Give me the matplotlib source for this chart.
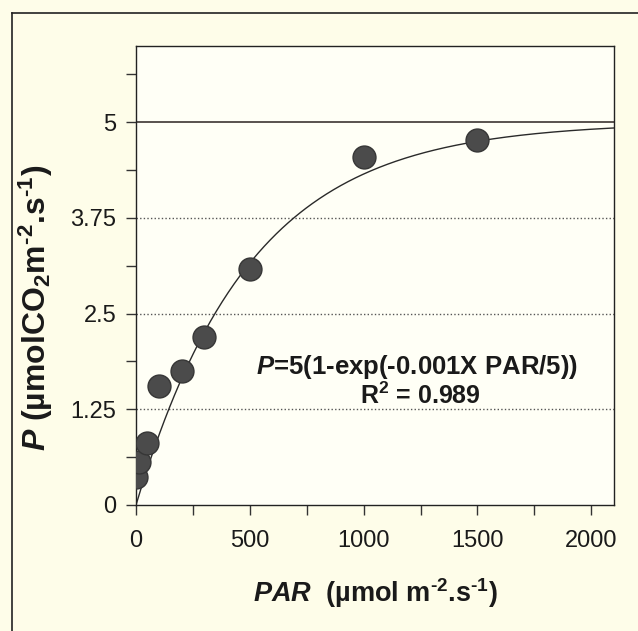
import numpy as np
import matplotlib
matplotlib.use("Agg")
import matplotlib.pyplot as plt
from matplotlib.lines import Line2D
from matplotlib.ticker import MultipleLocator

plt.rcParams['font.family'] = ['Liberation Sans', 'DejaVu Sans']
plt.rcParams['mathtext.fontset'] = 'custom'
plt.rcParams['mathtext.rm'] = 'Liberation Sans:bold'
plt.rcParams['mathtext.bf'] = 'Liberation Sans:bold'
plt.rcParams['mathtext.it'] = 'Liberation Sans:bold:italic'
plt.rcParams['mathtext.bfit'] = 'Liberation Sans:bold:italic'

# measured photosynthesis vs light
par = [0, 15, 50, 100, 200, 300, 500, 1000, 1500]
p_obs = [0.37, 0.56, 0.81, 1.55, 1.75, 2.19, 3.08, 4.54, 4.77]

# fitted light response curve
p_max = 5.0
alpha = 0.01

y_ticks = [0, 1.25, 2.5, 3.75, 5]
x_ticks = [0, 500, 1000, 1500, 2000]

fig = plt.figure(figsize=(6.38, 6.31), dpi=100, facecolor='#fefde9')
ax = fig.add_axes([0.2132, 0.1997, 0.7492, 0.7279])
ax.set_facecolor('#fffff6')

# grid lines
for yv in y_ticks[1:-1]:
    ax.axhline(yv, color='#555555', lw=1.0, ls=(0, (1, 1.6)), zorder=1)
ax.axhline(5, color='#2b2320', lw=1.1, zorder=1)

xx = np.linspace(0, 2100, 400)
ax.plot(xx, p_max * (1 - np.exp(-alpha * xx / p_max)), color='#2a2a2a', lw=1.0, zorder=2)
ax.plot(par, p_obs, 'o', ms=16.5, color='#4b4b4b', mec='#363636', mew=1.0, zorder=3)

ax.set_xlim(0, 2100)
ax.set_ylim(0, 6)
ax.set_xticks(x_ticks)
ax.set_yticks(y_ticks)
ax.set_yticklabels(['0', '1.25', '2.5', '3.75', '5'])
ax.xaxis.set_minor_locator(MultipleLocator(250))
ax.yaxis.set_minor_locator(MultipleLocator(0.625))
ax.tick_params(which='both', direction='out', length=7, width=1.0, color='#333333',
               labelsize=17, labelcolor='#1a1a1a')
ax.tick_params(axis='y', which='both', pad=7)
ax.tick_params(axis='x', which='both', pad=11)
for s in ax.spines.values():
    s.set_color('#222222')
    s.set_linewidth(1.0)

hy = '\u2010'
ax.set_ylabel(r'$\mathit{P}$ (µmolCO$_\mathrm{2}$m$^{\mathrm{%s2}}$.s$^{\mathrm{%s1}}$)' % (hy, hy),
              fontsize=23, fontweight='bold', color='#1a1a1a')
ax.yaxis.set_label_coords(-0.17, 0.43)
ax.set_xlabel(r'$\mathit{PAR}$  (µmol m$^{\mathrm{%s2}}$.s$^{\mathrm{%s1}}$)' % (hy, hy),
              fontsize=19.5, fontweight='bold', color='#1a1a1a')
ax.xaxis.set_label_coords(0.5, -0.155)

ax.text(1235, 1.80, r'$\mathit{P}$=5(1-exp(-0.001X PAR/5))',
        fontsize=18.5, ha='center', va='center', color='#1a1a1a', fontweight='bold')
ax.text(1250, 1.43, r'R$^\mathrm{2}$ = 0.989', fontsize=18, ha='center', va='center',
        color='#1a1a1a', fontweight='bold')

# outer frame around the figure panel
fx = 12 / 638
fy = 1 - 13 / 631
fig.add_artist(Line2D([fx, fx], [-0.05, fy], transform=fig.transFigure, color='#222222', lw=1.2))
fig.add_artist(Line2D([fx, 1.05], [fy, fy], transform=fig.transFigure, color='#222222', lw=1.2))

fig.savefig('out.png', dpi=100, facecolor=fig.get_facecolor())
